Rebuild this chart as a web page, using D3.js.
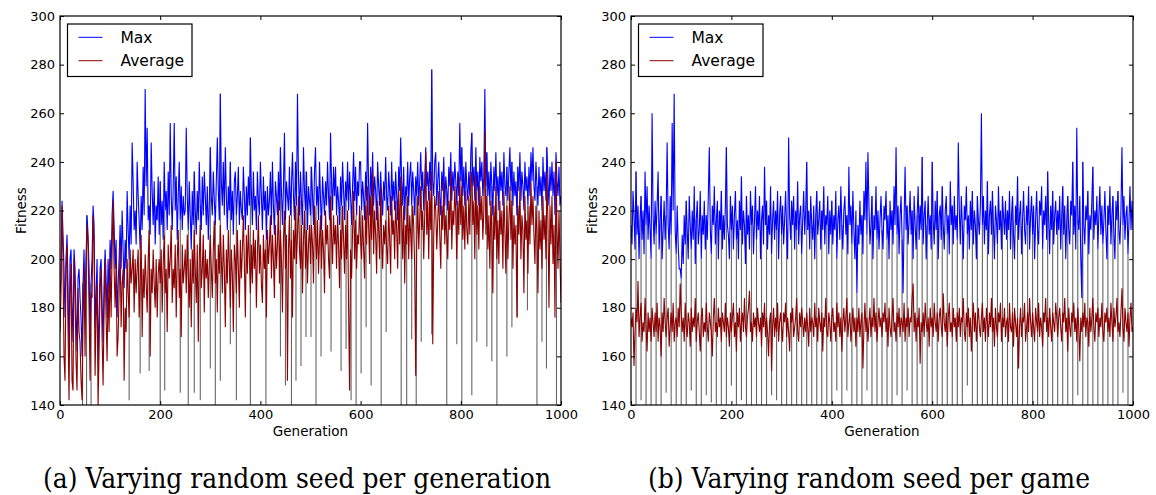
<!DOCTYPE html>
<html>
<head>
<meta charset="utf-8">
<script src="https://cdn.jsdelivr.net/npm/d3@7"></script>
<style>
  body { margin: 0; background: #fff; }
  svg text { fill: #000; }
  .sans { font-family: "DejaVu Sans", sans-serif; }
</style>
</head>
<body>
<script>
// one value every 2 generations, 0..1000
const step = 2
const generations = d3.range(0, 1001, step)
const xTicks = [0, 200, 400, 600, 800, 1000]
const yTicks = [140, 160, 180, 200, 220, 240, 260, 280, 300]
const seriesNames = ['Max', 'Average']
const captions = ['(a) Varying random seed per generation', '(b) Varying random seed per game']

// (a) random seed per generation, 25 values per row = 50 generations
const maxA = [
  186, 192, 224, 210, 196, 176, 200, 210, 188, 160, 200, 204, 182, 166, 204, 196, 178, 162, 192, 196, 184, 176, 160, 190, 204,
  176, 200, 218, 210, 196, 168, 190, 200, 222, 214, 172, 186, 200, 158, 176, 196, 200, 182, 166, 190, 204, 192, 176, 200, 186,
  208, 196, 218, 228, 214, 196, 208, 176, 190, 200, 214, 196, 220, 204, 188, 208, 196, 228, 212, 200, 222, 206, 248, 232, 212,
  220, 206, 240, 226, 216, 204, 226, 212, 238, 218, 270, 230, 254, 216, 222, 210, 248, 228, 214, 232, 206, 222, 216, 234, 210,
  232, 214, 224, 208, 240, 220, 228, 212, 236, 218, 256, 226, 212, 230, 256, 220, 234, 208, 226, 240, 216, 230, 212, 226, 218,
  220, 254, 226, 212, 232, 218, 204, 228, 214, 236, 220, 210, 228, 216, 240, 222, 212, 234, 218, 236, 226, 214, 230, 208, 222,
  246, 226, 218, 236, 224, 214, 232, 250, 228, 216, 268, 232, 222, 240, 218, 246, 226, 212, 230, 220, 240, 216, 228, 210, 232,
  236, 218, 226, 238, 214, 228, 220, 216, 238, 226, 212, 230, 218, 234, 222, 250, 228, 214, 236, 220, 226, 212, 236, 224, 218,
  240, 226, 212, 234, 220, 228, 208, 230, 218, 224, 236, 214, 240, 222, 210, 232, 226, 218, 236, 220, 246, 228, 214, 230, 252,
  216, 232, 226, 220, 238, 218, 230, 244, 226, 216, 240, 222, 268, 234, 218, 236, 224, 214, 246, 228, 220, 236, 212, 230, 224,
  218, 238, 226, 214, 236, 246, 222, 230, 216, 240, 224, 212, 234, 226, 218, 232, 222, 240, 226, 216, 252, 232, 220, 238, 226,
  238, 218, 230, 224, 214, 234, 222, 240, 228, 216, 232, 224, 240, 220, 236, 226, 214, 230, 244, 224, 238, 218, 232, 226, 240,
  240, 220, 232, 226, 216, 236, 224, 256, 230, 218, 238, 226, 244, 222, 234, 228, 216, 240, 230, 222, 236, 226, 218, 232, 224,
  242, 226, 220, 236, 228, 218, 240, 224, 232, 220, 236, 226, 216, 238, 228, 250, 232, 222, 238, 216, 230, 226, 240, 222, 234,
  240, 222, 236, 228, 218, 234, 226, 240, 222, 232, 244, 228, 236, 220, 232, 246, 230, 236, 224, 240, 228, 278, 232, 226, 240,
  244, 222, 232, 240, 226, 218, 236, 228, 242, 222, 234, 228, 220, 238, 230, 244, 224, 236, 228, 240, 232, 222, 236, 226, 256,
  232, 246, 226, 238, 222, 240, 230, 224, 236, 226, 244, 252, 230, 238, 224, 246, 228, 236, 222, 242, 232, 240, 226, 234, 270,
  230, 244, 226, 236, 222, 240, 230, 218, 238, 228, 244, 226, 234, 220, 240, 228, 236, 222, 244, 230, 226, 238, 224, 236, 246,
  228, 240, 222, 236, 226, 232, 218, 238, 228, 244, 224, 236, 230, 220, 240, 228, 234, 222, 238, 226, 244, 232, 246, 230, 224,
  240, 230, 222, 238, 226, 234, 220, 242, 228, 236, 224, 246, 232, 222, 238, 228, 240, 226, 236, 218, 244, 232, 226, 238, 222,
  226
]
const avgA = [
  170, 186, 222, 200, 160, 150, 196, 206, 172, 142, 186, 198, 150, 146, 200, 188, 158, 146, 188, 170, 166, 150, 142, 176, 196,
  160, 196, 214, 206, 180, 150, 186, 184, 218, 206, 152, 176, 190, 140, 162, 188, 196, 168, 148, 180, 200, 176, 158, 190, 170,
  200, 176, 204, 224, 196, 180, 198, 160, 168, 186, 206, 172, 190, 196, 150, 180, 170, 200, 186, 176, 204, 190, 196, 204, 178,
  200, 186, 196, 204, 176, 190, 210, 168, 196, 184, 202, 190, 178, 200, 212, 160, 196, 186, 204, 190, 180, 200, 176, 194, 200,
  190, 204, 178, 198, 210, 186, 196, 170, 206, 192, 200, 214, 182, 196, 188, 206, 176, 200, 212, 184, 196, 168, 206, 190, 196,
  204, 186, 210, 194, 180, 200, 172, 204, 190, 212, 196, 182, 206, 166, 200, 214, 188, 196, 210, 178, 204, 192, 200, 184, 198,
  210, 196, 184, 204, 216, 190, 200, 178, 206, 194, 214, 200, 186, 210, 196, 172, 204, 190, 212, 198, 180, 204, 194, 170, 206,
  200, 186, 212, 196, 180, 208, 192, 204, 218, 198, 176, 210, 194, 214, 200, 186, 206, 190, 212, 196, 208, 180, 202, 218, 194,
  206, 190, 182, 210, 196, 204, 176, 212, 198, 206, 218, 192, 210, 200, 184, 214, 196, 206, 224, 190, 212, 200, 178, 208, 220,
  196, 210, 150, 204, 218, 192, 208, 176, 212, 200, 222, 198, 210, 226, 204, 196, 214, 186, 208, 220, 196, 212, 190, 206, 214,
  198, 214, 206, 190, 222, 210, 200, 216, 194, 208, 218, 196, 212, 204, 186, 220, 206, 214, 200, 192, 226, 210, 198, 218, 206,
  214, 196, 218, 206, 188, 212, 200, 222, 208, 194, 214, 200, 220, 180, 146, 204, 192, 212, 228, 200, 216, 196, 210, 206, 222,
  208, 200, 218, 204, 192, 222, 206, 230, 214, 198, 226, 208, 236, 202, 220, 210, 194, 224, 212, 200, 230, 208, 196, 214, 206,
  216, 204, 198, 222, 208, 194, 226, 210, 216, 200, 224, 212, 196, 228, 206, 234, 218, 200, 222, 190, 214, 206, 226, 200, 218,
  210, 200, 222, 214, 196, 152, 206, 226, 204, 216, 230, 212, 220, 200, 218, 244, 210, 224, 200, 228, 212, 236, 165, 210, 226,
  220, 204, 216, 228, 210, 196, 222, 212, 232, 206, 218, 210, 200, 224, 212, 236, 204, 220, 214, 230, 218, 200, 224, 210, 234,
  214, 230, 208, 222, 204, 228, 212, 206, 226, 210, 232, 236, 214, 224, 200, 234, 210, 222, 204, 230, 216, 226, 208, 220, 253,
  210, 226, 204, 218, 196, 224, 212, 186, 222, 208, 230, 200, 216, 198, 224, 210, 220, 196, 228, 212, 194, 222, 200, 216, 230,
  208, 224, 196, 218, 206, 214, 176, 222, 210, 230, 200, 218, 212, 186, 226, 208, 216, 194, 222, 206, 232, 214, 226, 210, 198,
  222, 210, 186, 220, 204, 216, 196, 226, 208, 218, 200, 236, 214, 180, 222, 206, 226, 198, 214, 176, 240, 212, 196, 220, 200,
  182
]
// grey drops: generation and lowest value (120 = below the axis)
const dropGenA = [45, 53, 62, 138, 160, 178, 200, 209, 240, 256, 268, 280, 300, 310, 320, 340, 352, 380, 411, 440,
  450, 462, 471, 481, 491, 501, 511, 521, 541, 561, 571, 581, 591, 601, 611, 621, 641, 651, 681, 692,
  702, 711, 721, 742, 772, 792, 802, 822, 832, 852, 862, 872, 892, 902, 913, 933, 952, 962, 971, 991]
const dropLowA = [120, 120, 120, 142, 153, 154, 120, 146, 145, 120, 145, 142, 155, 120, 150, 165, 142, 120, 120, 160,
  148, 120, 150, 156, 168, 168, 120, 160, 162, 154, 163, 142, 120, 153, 172, 148, 120, 170, 120, 120,
  167, 120, 166, 169, 120, 165, 120, 144, 166, 164, 158, 120, 160, 172, 176, 179, 120, 166, 155, 120]

// (b) random seed per game
const maxB = [
  214, 206, 228, 218, 204, 236, 210, 222, 200, 216, 226, 208, 220, 202, 236, 214, 230, 208, 222, 212, 200, 260, 218, 206, 224,
  210, 222, 236, 204, 216, 226, 200, 212, 224, 208, 218, 248, 214, 204, 226, 210, 256, 220, 268, 212, 202, 222, 206, 196, 196,
  192, 210, 198, 218, 206, 224, 212, 200, 226, 214, 204, 220, 208, 230, 198, 216, 224, 206, 212, 228, 200, 218, 210, 224, 204,
  218, 208, 226, 246, 212, 202, 222, 214, 230, 206, 216, 224, 200, 220, 212, 228, 204, 218, 208, 222, 246, 214, 210, 200, 226,
  212, 222, 204, 218, 228, 208, 216, 200, 224, 212, 234, 206, 220, 214, 198, 226, 210, 218, 204, 228, 214, 222, 202, 216, 230,
  208, 220, 212, 226, 200, 216, 222, 206, 238, 214, 224, 204, 218, 210, 230, 202, 216, 224, 208, 220, 212, 228, 200, 218, 226,
  210, 222, 206, 216, 228, 212, 200, 250, 218, 208, 224, 214, 226, 204, 220, 212, 232, 206, 218, 222, 202, 216, 228, 210, 220,
  240, 212, 220, 204, 226, 214, 208, 222, 200, 218, 228, 210, 216, 224, 204, 220, 212, 230, 206, 218, 214, 226, 202, 220, 210,
  224, 206, 218, 212, 228, 200, 216, 222, 208, 230, 214, 204, 220, 226, 210, 218, 202, 238, 214, 222, 206, 228, 212, 200, 220,
  186, 214, 206, 224, 210, 218, 202, 228, 216, 240, 210, 244, 222, 206, 214, 226, 200, 218, 212, 230, 208, 220, 204, 216, 226,
  212, 204, 222, 216, 228, 208, 218, 200, 224, 212, 220, 206, 230, 214, 246, 210, 222, 202, 218, 226, 208, 186, 216, 238, 212,
  222, 206, 216, 228, 210, 220, 200, 226, 214, 204, 218, 230, 208, 222, 212, 242, 206, 218, 224, 200, 214, 226, 210, 218, 204,
  240, 216, 206, 224, 212, 228, 200, 218, 222, 208, 230, 214, 204, 220, 226, 210, 218, 202, 232, 214, 222, 206, 226, 212, 218,
  208, 248, 220, 206, 226, 214, 200, 222, 216, 230, 210, 218, 204, 224, 212, 228, 206, 220, 214, 200, 226, 216, 210, 222, 260,
  214, 226, 206, 220, 212, 232, 202, 218, 224, 210, 228, 214, 200, 222, 216, 206, 230, 212, 220, 204, 226, 218, 210, 224, 208,
  220, 212, 228, 204, 218, 226, 210, 200, 222, 214, 234, 208, 218, 224, 202, 216, 228, 212, 206, 222, 214, 230, 204, 218, 226,
  210, 222, 200, 216, 228, 212, 206, 224, 218, 230, 204, 220, 214, 226, 208, 236, 216, 202, 222, 212, 228, 206, 218, 224, 210,
  220, 212, 226, 204, 218, 230, 210, 222, 200, 216, 226, 212, 206, 224, 218, 240, 210, 222, 204, 254, 216, 212, 226, 200, 184,
  240, 214, 206, 222, 216, 228, 202, 218, 212, 224, 238, 208, 220, 214, 226, 204, 218, 230, 210, 222, 206, 216, 228, 212, 200,
  222, 214, 230, 206, 218, 226, 210, 200, 224, 216, 228, 212, 206, 220, 246, 214, 226, 208, 218, 222, 202, 216, 230, 212, 224,
  212
]
const avgB = [
  176, 172, 178, 156, 170, 180, 174, 191, 168, 176, 182, 166, 174, 170, 184, 172, 162, 178, 170, 176, 166, 180, 174, 168, 178,
  170, 182, 166, 176, 172, 160, 178, 170, 184, 174, 168, 176, 180, 164, 172, 178, 170, 182, 166, 174, 176, 168, 180, 172, 190,
  178, 170, 176, 166, 182, 172, 168, 178, 174, 164, 180, 170, 176, 172, 184, 166, 174, 178, 170, 162, 176, 180, 168, 174, 170,
  182, 172, 166, 178, 174, 170, 160, 176, 184, 170, 174, 168, 180, 172, 176, 166, 178, 174, 170, 182, 168, 176, 172, 164, 178,
  170, 176, 182, 168, 174, 162, 178, 172, 180, 166, 174, 178, 170, 184, 172, 168, 176, 180, 187, 170, 174, 166, 178, 172, 176,
  168, 180, 174, 170, 176, 164, 178, 172, 182, 168, 176, 170, 160, 174, 178, 154, 172, 180, 168, 176, 170, 182, 166, 174, 178,
  172, 166, 178, 174, 182, 168, 176, 170, 162, 178, 174, 180, 168, 172, 176, 184, 170, 166, 178, 172, 180, 174, 168, 176, 170,
  178, 172, 164, 180, 170, 176, 174, 168, 182, 172, 176, 166, 180, 174, 170, 178, 162, 176, 172, 184, 170, 168, 178, 174, 166,
  176, 180, 170, 174, 166, 182, 172, 178, 168, 176, 162, 174, 180, 170, 176, 184, 168, 174, 178, 166, 172, 180, 170, 176, 164,
  176, 170, 180, 168, 174, 178, 155, 172, 182, 170, 176, 166, 174, 180, 168, 176, 172, 184, 170, 178, 166, 174, 180, 172, 176,
  168, 178, 174, 182, 170, 176, 164, 180, 172, 168, 176, 184, 170, 174, 166, 178, 172, 180, 168, 176, 174, 170, 182, 166, 176,
  172, 180, 168, 176, 174, 184, 190, 170, 178, 166, 176, 172, 180, 157, 174, 170, 178, 168, 182, 174, 170, 176, 164, 180, 172,
  176, 168, 182, 174, 170, 178, 166, 176, 180, 172, 168, 186, 174, 170, 178, 164, 176, 182, 170, 174, 168, 180, 172, 176, 166,
  178, 172, 180, 168, 176, 174, 184, 170, 166, 178, 172, 180, 168, 176, 162, 174, 182, 170, 178, 166, 174, 180, 172, 168, 176,
  182, 170, 176, 166, 180, 174, 168, 178, 172, 184, 170, 176, 164, 180, 172, 168, 178, 174, 182, 166, 176, 172, 180, 168, 174,
  176, 166, 182, 172, 170, 178, 164, 180, 174, 168, 176, 155, 172, 180, 168, 176, 174, 182, 166, 172, 178, 170, 184, 174, 168,
  178, 172, 166, 180, 174, 170, 182, 168, 176, 172, 164, 178, 174, 184, 170, 176, 168, 180, 172, 166, 178, 174, 170, 182, 176,
  168, 176, 180, 172, 166, 178, 174, 184, 170, 176, 162, 180, 172, 168, 178, 174, 182, 170, 176, 166, 180, 172, 158, 176, 170,
  178, 172, 182, 168, 176, 174, 164, 180, 170, 176, 184, 172, 166, 178, 174, 180, 168, 176, 172, 182, 170, 166, 178, 174, 180,
  170, 176, 168, 182, 174, 166, 180, 172, 176, 184, 170, 174, 168, 178, 188, 172, 166, 180, 174, 170, 178, 164, 176, 182, 170,
  172
]
const dropGenB = [10, 20, 30, 40, 50, 60, 70, 80, 90, 100,
  110, 120, 130, 140, 150, 160, 170, 180, 190, 200,
  210, 220, 230, 240, 250, 260, 270, 280, 290, 300,
  310, 320, 330, 340, 350, 360, 370, 380, 390, 400,
  410, 420, 430, 440, 450, 460, 470, 480, 490, 500,
  510, 520, 530, 540, 550, 560, 570, 580, 590, 600,
  610, 620, 630, 640, 650, 660, 670, 680, 690, 700,
  710, 720, 730, 740, 750, 760, 770, 780, 790, 800,
  810, 820, 830, 840, 850, 860, 870, 880, 890, 900,
  910, 920, 930, 940, 950, 960, 970, 980, 990]
const dropLowB = [120, 142, 120, 120, 120, 120, 145, 120, 120, 120,
  120, 146, 120, 120, 144, 141, 120, 120, 120, 148,
  120, 142, 120, 120, 120, 120, 120, 144, 142, 120,
  120, 120, 120, 120, 120, 120, 120, 120, 120, 120,
  146, 120, 146, 120, 120, 120, 146, 120, 120, 120,
  120, 120, 144, 120, 146, 120, 120, 120, 120, 120,
  120, 120, 120, 120, 120, 120, 148, 120, 120, 120,
  120, 120, 120, 120, 120, 120, 120, 120, 120, 120,
  120, 120, 120, 120, 120, 120, 120, 120, 144, 120,
  120, 120, 120, 120, 120, 120, 120, 145, 120]

const width = 1156
const height = 495
const plotTop = 16
const plotBottom = 405
const colors = ['#0000ff', '#8b0000']

const panels = [
  { left: 60, right: 561, max: maxA, avg: avgA, dropGen: dropGenA, dropLow: dropLowA, caption: captions[0], capX: 43, capW: 508 },
  { left: 631, right: 1133, max: maxB, avg: avgB, dropGen: dropGenB, dropLow: dropLowB, caption: captions[1], capX: 648, capW: 442 }
]

const svg = d3.select('body')
  .append('svg')
  .attr('width', width)
  .attr('height', height)

const drawPanel = (p, i) => {
  const x = d3.scaleLinear().domain([0, 1000]).range([p.left, p.right])
  const y = d3.scaleLinear().domain([140, 300]).range([plotBottom, plotTop])
  const g = svg.append('g').attr('class', 'sans')

  g.append('clipPath')
    .attr('id', 'clip' + i)
    .append('rect')
    .attr('x', p.left)
    .attr('y', plotTop)
    .attr('width', p.right - p.left)
    .attr('height', plotBottom - plotTop)

  const plot = g.append('g').attr('clip-path', `url(#clip${i})`)

  plot.append('g')
    .selectAll('line')
    .data(p.dropGen)
    .enter()
    .append('line')
    .attr('x1', d => x(d))
    .attr('x2', d => x(d))
    .attr('y1', (d, j) => y(p.dropLow[j]))
    .attr('y2', d => y(p.max[Math.round(d / step)]))
    .attr('stroke', '#666')
    .attr('stroke-width', 1.1)

  const line = d3.line()
    .x((d, j) => x(generations[j]))
    .y(d => y(d))

  ;[p.max, p.avg].forEach((s, k) => {
    plot.append('path')
      .datum(s)
      .attr('d', line)
      .attr('fill', 'none')
      .attr('stroke', colors[k])
      .attr('stroke-width', 1.1)
  })

  // ticks point inward on all four sides
  g.append('g')
    .attr('transform', `translate(0,${plotBottom})`)
    .call(d3.axisBottom(x).tickValues(xTicks).tickSize(-4).tickPadding(5).tickFormat(d3.format('d')))
  g.append('g')
    .attr('transform', `translate(0,${plotTop})`)
    .call(d3.axisTop(x).tickValues(xTicks).tickSize(-4).tickFormat(''))
  g.append('g')
    .attr('transform', `translate(${p.left},0)`)
    .call(d3.axisLeft(y).tickValues(yTicks).tickSize(-4).tickPadding(5))
  g.append('g')
    .attr('transform', `translate(${p.right},0)`)
    .call(d3.axisRight(y).tickValues(yTicks).tickSize(-4).tickFormat(''))

  g.selectAll('.domain').remove()
  g.selectAll('.tick line').attr('stroke', '#000')
  g.selectAll('.tick text').attr('font-size', 13).attr('font-family', 'DejaVu Sans')

  g.append('rect')
    .attr('x', p.left)
    .attr('y', plotTop)
    .attr('width', p.right - p.left)
    .attr('height', plotBottom - plotTop)
    .attr('fill', 'none')
    .attr('stroke', '#000')
    .attr('stroke-width', 1.2)

  g.append('text')
    .attr('x', (p.left + p.right) / 2)
    .attr('y', 435.5)
    .attr('text-anchor', 'middle')
    .attr('font-size', 13.5)
    .text('Generation')

  g.append('text')
    .attr('transform', `translate(${p.left - 34},${(plotTop + plotBottom) / 2}) rotate(-90)`)
    .attr('text-anchor', 'middle')
    .attr('font-size', 13.5)
    .text('Fitness')

  // legend
  const lg = g.append('g').attr('transform', `translate(${p.left + 7.5},24)`)
  lg.append('rect')
    .attr('width', 124.5)
    .attr('height', 52.5)
    .attr('fill', '#fff')
    .attr('stroke', '#000')
    .attr('stroke-width', 1.2)
  seriesNames.forEach((name, k) => {
    lg.append('line')
      .attr('x1', 11)
      .attr('x2', 35)
      .attr('y1', 13.3 + k * 23.4)
      .attr('y2', 13.3 + k * 23.4)
      .attr('stroke', colors[k])
      .attr('stroke-width', 1)
    lg.append('text')
      .attr('x', 53)
      .attr('y', 19 + k * 23.4)
      .attr('font-size', 15.5)
      .text(name)
  })

  svg.append('text')
    .attr('x', p.capX)
    .attr('y', 488)
    .attr('font-family', 'DejaVu Serif, Liberation Serif, serif')
    .attr('font-size', 28)
    .attr('textLength', p.capW)
    .attr('lengthAdjust', 'spacingAndGlyphs')
    .text(p.caption)
}

panels.forEach(drawPanel)
</script>
</body>
</html>
